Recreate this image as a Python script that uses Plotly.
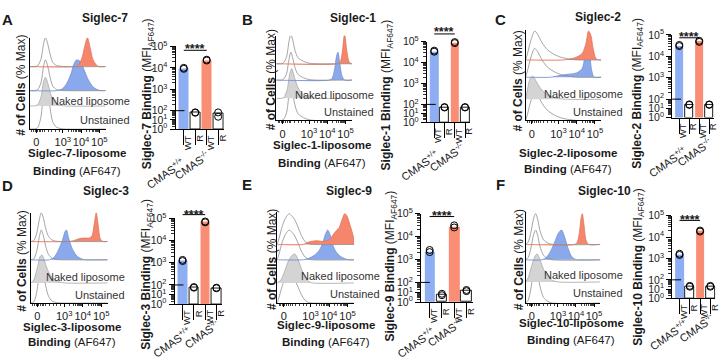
import numpy as np
import plotly.graph_objects as go

# ---------------- data ----------------
siglec_names = ["Siglec-7", "Siglec-1", "Siglec-2", "Siglec-3", "Siglec-9", "Siglec-10"]
panel_letters = ["A", "B", "C", "D", "E", "F"]
bar_groups = ["WT", "R", "WT", "R"]
genotypes = ["CMAS<sup>+/+</sup>", "CMAS<sup>-/-</sup>"]
hist_tick_vals = [1.55, 3, 4, 5]
hist_tick_text = ["0", "10<sup>3</sup>", "10<sup>4</sup>", "10<sup>5</sup>"]
mfi_tick_vals = [1, 10, 100, 1e3, 1e4, 1e5]
mfi_tick_text = ["10<sup>0</sup>", "10<sup>1</sup>", "10<sup>2</sup>",
                 "10<sup>3</sup>", "10<sup>4</sup>", "10<sup>5</sup>"]

# bar heights (MFI) : WT CMAS+/+, R CMAS+/+, WT CMAS-/-, R CMAS-/-
mfi_s7 = [9.5e3, 62, 2.3e4, 50]
mfi_s1 = [3.5e4, 47, 9.0e4, 47]
mfi_s2 = [3.2e4, 25, 5.0e4, 25]
mfi_s3 = [1.25e3, 55, 7.0e4, 48]
mfi_s9 = [2.3e3, 6, 2.8e4, 15]
mfi_s10 = [1.55e3, 20, 1.9e4, 20]

# replicate points
reps_s7 = [[9.0e3, 1.0e4], [60, 66], [2.2e4, 2.4e4], [65, 22]]
reps_s1 = [[3.3e4, 3.7e4], [45, 50], [8.5e4, 9.5e4], [45, 50]]
reps_s2 = [[3.0e4, 3.4e4], [24, 27], [4.7e4, 5.3e4], [24, 27]]
reps_s3 = [[1.2e3, 1.35e3], [52, 60], [6.7e4, 7.3e4], [45, 52]]
reps_s9 = [[2.1e3, 2.6e3], [5, 7], [2.5e4, 3.1e4], [13, 17]]
reps_s10 = [[1.45e3, 1.65e3], [18, 22], [1.8e4, 2.0e4], [18, 22]]

# histogram curves (display units of the AF647 axis, % of max)
h7_ctrl = [(1.2, 0), (1.6, 2), (1.8, 25), (1.95, 80), (2.05, 100), (2.15, 85), (2.3, 45), (2.45, 15), (2.65, 4), (2.9, 1), (3.2, 0), (5.35, 0)]
h7_ko = [(1.2, 0), (3.6, 0), (3.85, 5), (4.05, 30), (4.2, 70), (4.35, 100), (4.5, 65), (4.65, 25), (4.85, 5), (5.0, 0), (5.35, 0)]
h7_wt = [(1.2, 0), (2.7, 0), (2.95, 5), (3.2, 22), (3.45, 55), (3.6, 85), (3.75, 100), (3.95, 95), (4.15, 70), (4.4, 35), (4.7, 10), (5.0, 1), (5.35, 0)]
h7_naked = [(1.2, 0), (1.6, 3), (1.8, 30), (1.95, 85), (2.05, 100), (2.2, 75), (2.4, 30), (2.6, 10), (2.9, 2), (3.2, 0), (5.35, 0)]

h1_ctrl = [(1.2, 0), (1.55, 1), (1.75, 20), (1.9, 75), (2.0, 100), (2.1, 80), (2.25, 40), (2.4, 20), (2.7, 8), (3.0, 2), (3.3, 0), (5.35, 0)]
h1_ko = [(1.2, 0), (4.55, 0), (4.7, 5), (4.82, 40), (4.94, 100), (5.05, 50), (5.18, 8), (5.3, 0), (5.35, 0)]
h1_wt = [(1.2, 0), (4.1, 0), (4.25, 5), (4.4, 40), (4.5, 85), (4.58, 100), (4.68, 60), (4.8, 15), (4.95, 0), (5.35, 0)]
h1_naked = [(1.2, 0), (1.6, 2), (1.8, 30), (1.95, 85), (2.05, 100), (2.2, 70), (2.4, 35), (2.7, 12), (3.1, 3), (3.5, 0), (5.35, 0)]

h2_ctrl = [(1.2, 0), (1.3, 20), (1.5, 70), (1.7, 100), (1.85, 90), (2.1, 60), (2.4, 35), (2.8, 18), (3.2, 8), (3.6, 3), (4.0, 0), (5.35, 0)]
h2_ko = [(1.2, 0), (3.3, 0), (3.7, 4), (4.0, 10), (4.3, 22), (4.5, 55), (4.65, 100), (4.78, 85), (4.9, 40), (5.05, 5), (5.2, 0), (5.35, 0)]
h2_wt = [(1.2, 0), (2.6, 0), (3.0, 5), (3.5, 10), (4.0, 15), (4.3, 30), (4.45, 70), (4.57, 100), (4.7, 80), (4.82, 25), (4.95, 0), (5.35, 0)]
h2_naked = [(1.2, 0), (1.3, 40), (1.45, 90), (1.6, 100), (1.8, 75), (2.1, 40), (2.5, 15), (3.0, 4), (3.5, 0), (5.35, 0)]

h3_ctrl = [(1.2, 0), (1.35, 3), (1.5, 25), (1.65, 75), (1.76, 100), (1.88, 80), (2.0, 45), (2.15, 18), (2.35, 5), (2.6, 1), (2.9, 0), (5.35, 0)]
h3_ko = [(1.2, 0), (3.2, 0), (3.5, 3), (3.8, 10), (4.1, 12), (4.35, 12), (4.5, 20), (4.62, 60), (4.73, 100), (4.83, 60), (4.95, 10), (5.1, 0), (5.35, 0)]
h3_wt = [(1.2, 0), (2.2, 0), (2.45, 8), (2.7, 35), (2.9, 65), (3.05, 95), (3.12, 100), (3.25, 70), (3.45, 35), (3.7, 12), (4.0, 2), (4.2, 0), (5.35, 0)]
h3_naked = [(1.2, 0), (1.35, 10), (1.55, 55), (1.7, 95), (1.8, 100), (1.95, 75), (2.15, 40), (2.4, 15), (2.7, 4), (3.0, 0), (5.35, 0)]

h9_ctrl = [(1.2, 0), (1.3, 20), (1.45, 55), (1.6, 80), (1.75, 95), (1.85, 100), (1.95, 95), (2.1, 85), (2.3, 60), (2.5, 30), (2.7, 10), (2.9, 2), (3.1, 0), (5.35, 0)]
h9_ko = [(1.2, 0), (2.6, 0), (2.9, 8), (3.3, 12), (3.7, 10), (4.0, 15), (4.2, 30), (4.4, 45), (4.55, 55), (4.7, 80), (4.85, 100), (4.95, 95), (5.1, 70), (5.25, 40), (5.35, 15), (5.35, 0)]
h9_wt = [(1.2, 0), (2.6, 0), (2.9, 5), (3.2, 15), (3.45, 30), (3.65, 55), (3.8, 85), (3.93, 100), (4.05, 85), (4.2, 50), (4.4, 25), (4.6, 12), (4.85, 4), (5.05, 0), (5.35, 0)]
h9_naked = [(1.2, 0), (1.4, 10), (1.6, 40), (1.8, 75), (2.0, 95), (2.15, 100), (2.3, 85), (2.5, 50), (2.7, 20), (2.9, 5), (3.1, 0), (5.35, 0)]

h10_ctrl = [(1.2, 0), (1.35, 8), (1.5, 40), (1.65, 85), (1.76, 100), (1.88, 80), (2.0, 45), (2.2, 15), (2.45, 4), (2.7, 0), (5.35, 0)]
h10_ko = [(1.2, 0), (3.9, 0), (4.05, 5), (4.18, 35), (4.28, 85), (4.35, 100), (4.45, 60), (4.55, 15), (4.7, 0), (5.35, 0)]
h10_wt = [(1.2, 0), (2.1, 0), (2.35, 8), (2.6, 30), (2.85, 65), (3.05, 92), (3.2, 100), (3.35, 80), (3.55, 40), (3.75, 12), (3.95, 2), (4.1, 0), (5.35, 0)]
h10_naked = [(1.2, 0), (1.35, 15), (1.55, 60), (1.75, 95), (1.85, 100), (2.0, 80), (2.2, 45), (2.45, 18), (2.7, 5), (3.0, 0), (5.35, 0)]

# ---------------- assembly ----------------
hists = [(h7_ctrl, h7_ko, h7_wt, h7_naked), (h1_ctrl, h1_ko, h1_wt, h1_naked),
         (h2_ctrl, h2_ko, h2_wt, h2_naked), (h3_ctrl, h3_ko, h3_wt, h3_naked),
         (h9_ctrl, h9_ko, h9_wt, h9_naked), (h10_ctrl, h10_ko, h10_wt, h10_naked)]
bars = [(mfi_s7, reps_s7), (mfi_s1, reps_s1), (mfi_s2, reps_s2),
        (mfi_s3, reps_s3), (mfi_s9, reps_s9), (mfi_s10, reps_s10)]

W, H = 720, 360
FONT = "Liberation Sans, Arial, sans-serif"
TXT = "#1a1a1a"
BLUE_BAR = "#8DAEF3"
RED_BAR = "#F98E74"
BLUE_FILL = "#8AA9EC"
RED_FILL = "#F5866B"
BLUE_LINE = "#7390CF"
RED_LINE = "#E4735A"
GRAY_FILL = "#D4D4D4"
GRAY_LINE = "#8E8E8E"


def px(x):
    return x / W


def py(y):
    return 1 - y / H


K = 0.43  # compression of the 10^0-10^2 segment of the broken MFI axis


def brk(v):
    lv = np.log10(np.asarray(v, dtype=float))
    return np.where(lv >= 2, lv, 2 - (2 - lv) * K)


U0 = float(brk(1))
UTOP = 5.0
HX_RANGE = [1.2, 5.35]
XR = [-0.72, 3.5]

geo = [
    dict(letter=(8, 12), title=(105, 10), hx=(30, 106), hy=(31, 126), base=(61, 86, 102, 126), rs=(30, 32, 30, 50),
         hyt=(21, 80), hxt=(77, 151, 170), naked=(132, 97), unst=(132, 117),
         bx=176, sp=11.5, by=(40, 126), byt=(148, 89), star=(40, 44), cm=((166, 172), (192, 163))),
    dict(letter=(248, 12), title=(354, 10), hx=(277, 353), hy=(29, 117), base=(58, 75, 94, 117), rs=(31, 29, 31, 35),
         hyt=(272, 75), hxt=(323, 143, 161), naked=(377, 90), unst=(377, 108),
         bx=428, sp=10.3, by=(35, 119), byt=(388, 90), star=(22, 27), cm=((421, 163), (448, 155))),
    dict(letter=(502, 12), title=(600, 9), hx=(527, 603), hy=(23, 117), base=(54, 72, 95, 117), rs=(30, 30, 24, 30),
         hyt=(519, 76), hxt=(570, 151, 167), naked=(627, 89), unst=(627, 108),
         bx=674, sp=10.0, by=(28, 114), byt=(639, 89), star=(27, 31), cm=((669, 160), (696, 150))),
    dict(letter=(8, 185), title=(106, 190), hx=(31, 108), hy=(213, 307), base=(243, 262, 286, 307), rs=(30, 31, 29, 40),
         hyt=(22, 263), hxt=(72, 332, 348), naked=(127, 280), unst=(127, 299),
         bx=175, sp=11.3, by=(219, 308), byt=(148, 277), star=(212, 215), cm=((172, 347), (202, 339))),
    dict(letter=(248, 184), title=(350, 190), hx=(278, 355), hy=(212, 307), base=(246, 262, 286, 307), rs=(32, 31, 30, 30),
         hyt=(273, 262), hxt=(327, 330, 347), naked=(383, 279), unst=(383, 298),
         bx=422, sp=12.3, by=(214, 306), byt=(392, 268), star=(213, 217), cm=((417, 347), (446, 337))),
    dict(letter=(502, 184), title=(606, 190), hx=(527, 602), hy=(212, 307), base=(246, 262, 285, 307), rs=(32, 31, 29, 39),
         hyt=(520, 262), hxt=(573, 328, 345), naked=(627, 278), unst=(627, 297),
         bx=674, sp=10.3, by=(216, 302), byt=(640, 270), star=(218, 221), cm=((670, 340), (698, 333))),
]

fig = go.Figure()
layout = {}
annotations = []
shapes = []


def ax(n):
    return "" if n == 1 else str(n)


hist_minor = [1.3, 1.4, 1.5, 1.6, 1.7, 1.8, 1.9, 2.0, 2.2, 2.4, 2.6, 2.8] + \
             [d + np.log10(k) for d in (3, 4) for k in range(2, 10)]
bar_minor = [float(brk(k * 10 ** d)) for d in range(0, 5) for k in range(2, 10)]

for i in range(6):
    g = geo[i]
    ctrl, ko, wt, naked = hists[i]
    n = i + 1
    xa, ya = "x" + ax(n), "y" + ax(n)
    bottom = g["hy"][1]
    hgt = g["hy"][1] - g["hy"][0]
    off = [bottom - b for b in g["base"]]

    def xs(c):
        return [t for t, _ in c]

    def ys(c, row):
        return [off[row] + p / 100 * g["rs"][row] for _, p in c]

    def curve(c, row, fill, color, width):
        kw = dict(x=xs(c), y=ys(c, row), mode="lines", xaxis=xa, yaxis=ya,
                  line=dict(color=color, width=width, shape="spline", smoothing=0.8),
                  hoverinfo="skip", showlegend=False)
        if fill:
            kw.update(fill="toself", fillcolor=fill)
        fig.add_trace(go.Scatter(**kw))

    # bottom rows first
    curve(ctrl, 3, None, GRAY_LINE, 0.8)
    curve(naked, 2, GRAY_FILL, "#A9A9A9", 0.8)
    curve(wt, 1, BLUE_FILL, BLUE_LINE, 0.8)
    curve(ctrl, 1, None, GRAY_LINE, 0.8)
    curve(ko, 0, RED_FILL, RED_LINE, 0.8)
    curve(ctrl, 0, None, GRAY_LINE, 0.8)

    layout["xaxis" + ax(n)] = dict(
        domain=[px(g["hx"][0]), px(g["hx"][1])], range=HX_RANGE, anchor=ya,
        showgrid=False, zeroline=False, showline=True, linecolor="black", linewidth=1,
        tickmode="array", tickvals=hist_tick_vals, ticktext=hist_tick_text, tickangle=0,
        ticks="outside", ticklen=3, tickwidth=1, tickcolor="black",
        tickfont=dict(family=FONT, size=11, color=TXT),
        minor=dict(tickmode="array", tickvals=hist_minor, ticks="outside", ticklen=2,
                   tickcolor="#444", tickwidth=0.8),
    )
    layout["yaxis" + ax(n)] = dict(
        domain=[py(g["hy"][1]), py(g["hy"][0])], range=[0, hgt], anchor=xa,
        showgrid=False, zeroline=False, showline=True, linecolor="black", linewidth=1,
        showticklabels=False, ticks="",
    )

    # ---- bars ----
    mfi, reps = bars[i]
    m = i + 7
    xb, yb = "x" + ax(m), "y" + ax(m)
    bw = (XR[1] - XR[0]) * g["sp"]
    fig.add_trace(go.Bar(
        x=[0, 1, 2, 3], y=brk(mfi) - U0, base=U0, width=0.85, xaxis=xb, yaxis=yb,
        marker=dict(color=[BLUE_BAR, "white", RED_BAR, "white"],
                    line=dict(color=["rgba(0,0,0,0)", "black", "rgba(0,0,0,0)", "black"],
                              width=[0, 0.9, 0, 0.9])),
        hoverinfo="skip", showlegend=False))
    for j in range(4):
        fig.add_trace(go.Scatter(
            x=[j] * len(reps[j]), y=brk(reps[j]), mode="markers", xaxis=xb, yaxis=yb,
            marker=dict(symbol="circle-open", size=7, color="black", line=dict(width=1)),
            cliponaxis=False, hoverinfo="skip", showlegend=False))

    layout["xaxis" + ax(m)] = dict(
        domain=[px(g["bx"]), px(g["bx"] + bw)], range=XR, anchor=yb,
        showgrid=False, zeroline=False, showline=True, linecolor="black", linewidth=1,
        tickmode="array", tickvals=[0, 1, 2, 3], showticklabels=False,
        ticks="outside", ticklen=15, tickwidth=1, tickcolor="black",
    )
    layout["yaxis" + ax(m)] = dict(
        domain=[py(g["by"][1]), py(g["by"][0])], range=[U0, UTOP], anchor=xb,
        showgrid=False, zeroline=False, showline=True, linecolor="black", linewidth=1,
        tickmode="array", tickvals=[float(v) for v in brk(mfi_tick_vals)], ticktext=mfi_tick_text,
        ticks="outside", ticklen=5, tickwidth=1, tickcolor="black",
        tickfont=dict(family=FONT, size=10.5, color=TXT),
        minor=dict(tickmode="array", tickvals=bar_minor, ticks="outside", ticklen=3,
                   tickcolor="#333", tickwidth=0.8),
    )
    # axis break mark at 10^2
    shapes.append(dict(type="line", xref=xb + " domain", yref=yb, x0=0, x1=9 / bw, y0=2, y1=2,
                       line=dict(color="black", width=1)))
    # significance
    shapes.append(dict(type="line", xref=xb, yref="paper", x0=0, x1=2,
                       y0=py(g["star"][1]), y1=py(g["star"][1]), line=dict(color="black", width=1)))
    annotations.append(dict(xref=xb, yref="paper", x=1, y=py(g["star"][0] + 3), text="<b>****</b>",
                            showarrow=False, xanchor="center", yanchor="middle",
                            font=dict(family=FONT, size=12.5, color=TXT)))
    # group labels
    for j, lab in enumerate(bar_groups):
        annotations.append(dict(xref=xb, yref="paper", x=j, xshift=4, y=py(g["by"][1] + 4),
                                text=lab, textangle=-90, showarrow=False,
                                xanchor="center", yanchor="top",
                                font=dict(family=FONT, size=9.5, color=TXT)))
    for k, gt in enumerate(genotypes):
        cx, cy = g["cm"][k]
        annotations.append(dict(xref="paper", yref="paper", x=px(cx), y=py(cy), text=gt,
                                textangle=-35, showarrow=False, xanchor="center", yanchor="middle",
                                font=dict(family=FONT, size=11, color=TXT)))

    # texts
    annotations.append(dict(xref="paper", yref="paper", x=px(g["letter"][0]), y=py(g["letter"][1]),
                            text="<b>%s</b>" % panel_letters[i], showarrow=False,
                            xanchor="center", yanchor="middle", font=dict(family=FONT, size=15, color=TXT)))
    annotations.append(dict(xref="paper", yref="paper", x=px(g["title"][0]), y=py(g["title"][1]),
                            text="<b>%s</b>" % siglec_names[i], showarrow=False,
                            xanchor="center", yanchor="middle", font=dict(family=FONT, size=12, color=TXT)))
    annotations.append(dict(xref="paper", yref="paper", x=px(g["hyt"][0]), y=py(g["hyt"][1]),
                            text="<b># of Cells</b> (% Max)", textangle=-90, showarrow=False,
                            xanchor="center", yanchor="middle", font=dict(family=FONT, size=12, color=TXT)))
    annotations.append(dict(xref="paper", yref="paper", x=px(g["hxt"][0]), y=py(g["hxt"][1]),
                            text="<b>%s-liposome</b>" % siglec_names[i], showarrow=False,
                            xanchor="center", yanchor="middle", font=dict(family=FONT, size=11.5, color=TXT)))
    annotations.append(dict(xref="paper", yref="paper", x=px(g["hxt"][0]), y=py(g["hxt"][2]),
                            text="<b>Binding</b> (AF647)", showarrow=False,
                            xanchor="center", yanchor="middle", font=dict(family=FONT, size=11.5, color=TXT)))
    annotations.append(dict(xref="paper", yref="paper", x=px(g["naked"][0]), y=py(g["naked"][1]),
                            text="Naked liposome", showarrow=False,
                            xanchor="right", yanchor="middle", font=dict(family=FONT, size=11, color="#333")))
    annotations.append(dict(xref="paper", yref="paper", x=px(g["unst"][0]), y=py(g["unst"][1]),
                            text="Unstained", showarrow=False,
                            xanchor="right", yanchor="middle", font=dict(family=FONT, size=11, color="#333")))
    annotations.append(dict(xref="paper", yref="paper", x=px(g["byt"][0]), y=py(g["byt"][1]),
                            text="<b>%s Binding</b> (MFI<sub>AF647</sub>)" % siglec_names[i],
                            textangle=-90, showarrow=False, xanchor="center", yanchor="middle",
                            font=dict(family=FONT, size=12, color=TXT)))

fig.update_layout(
    width=W, height=H, margin=dict(l=0, r=0, t=0, b=0),
    paper_bgcolor="white", plot_bgcolor="white", showlegend=False,
    font=dict(family=FONT, size=11, color=TXT),
    annotations=annotations, shapes=shapes, bargap=0,
    **layout,
)

fig.write_html("out.html", config={"displayModeBar": False},
               post_script="document.body.style.margin='0';document.body.style.overflow='hidden';")
